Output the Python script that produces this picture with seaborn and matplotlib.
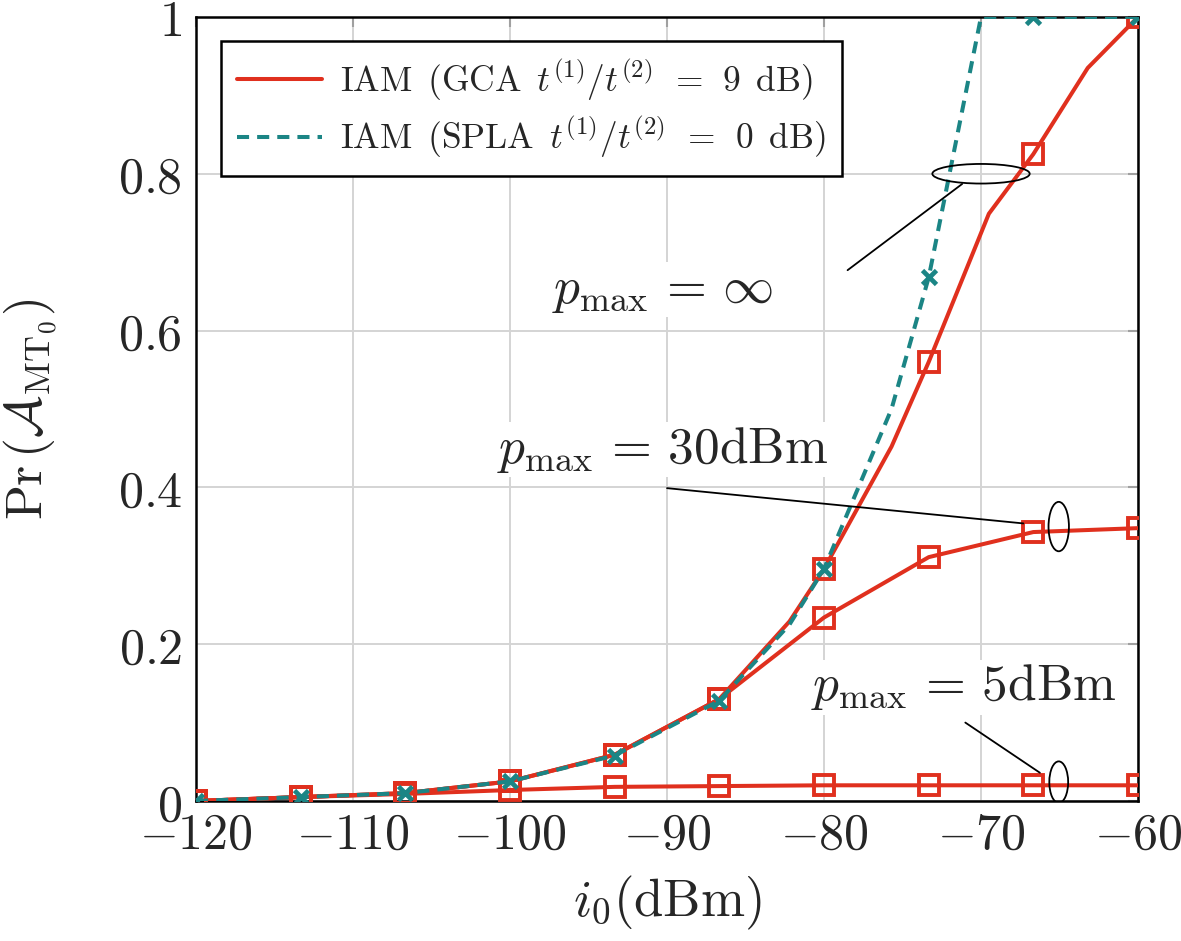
import matplotlib
matplotlib.use("Agg")
import matplotlib.pyplot as plt
from matplotlib.patches import Ellipse
from matplotlib.lines import Line2D
import seaborn as sns

# marker positions on the i0 axis (dBm)
i0_marks = [-120, -113.33, -106.67, -100, -93.33, -86.67, -80, -73.33, -66.67, -60]

# p_max = inf, GCA (extra points where the curve bends between markers)
i0_gca_inf = [-120, -113.33, -106.67, -100, -93.33, -86.67, -82.2, -80, -75.7, -73.33, -69.5, -66.67, -63.2, -60]
pr_gca_inf = [0.0, 0.005, 0.010, 0.025, 0.059, 0.130, 0.229, 0.296, 0.452, 0.560, 0.749, 0.825, 0.935, 1.0]

# p_max = inf, SPLA
i0_spla_inf = [-120, -113.33, -106.67, -100, -93.33, -86.67, -82.2, -80, -75.7, -73.33, -70, -66.67, -60]
pr_spla_inf = [0.0, 0.005, 0.010, 0.025, 0.058, 0.128, 0.225, 0.296, 0.50, 0.668, 1.0, 1.0, 1.0]

# p_max = 30 dBm and 5 dBm, GCA
pr_gca_30 = [0.0, 0.005, 0.010, 0.025, 0.059, 0.130, 0.234, 0.311, 0.343, 0.348]
pr_gca_5 = [0.0, 0.005, 0.009, 0.014, 0.018, 0.019, 0.020, 0.020, 0.020, 0.020]

x_ticks = [-120, -110, -100, -90, -80, -70, -60]
y_ticks = [0, 0.2, 0.4, 0.6, 0.8, 1]

legend_labels = [r"$\mathrm{IAM\ \,(GCA\ \,}t^{(1)}/t^{(2)}\;\,=\;\,9\ \,\mathrm{dB)}$",
                 r"$\mathrm{IAM\ \,(SPLA\ \,}t^{(1)}/t^{(2)}\;\,=\;\,0\ \,\mathrm{dB)}$"]

RED = "#e0301e"
TEAL = "#1b8585"
DASH = (0, (3.0, 2.0))

sns.set_style("white")
plt.rcParams["mathtext.fontset"] = "cm"
plt.rcParams["font.family"] = ["DejaVu Serif"]


def mark_idx(xs):
    return [i for i, x in enumerate(xs) if x in i0_marks]


fig = plt.figure(figsize=(11.81, 9.41), dpi=100)
ax = fig.add_axes([0.166, 0.1488, 0.7976, 0.8332])

red_kw = dict(color=RED, lw=2.9, marker="s", ms=14.5, mfc="none", mec=RED, mew=2.8)
sns.lineplot(x=i0_marks, y=pr_gca_5, ax=ax, zorder=3, **red_kw)
sns.lineplot(x=i0_marks, y=pr_gca_30, ax=ax, zorder=3, **red_kw)
sns.lineplot(x=i0_gca_inf, y=pr_gca_inf, ax=ax, zorder=3,
             markevery=mark_idx(i0_gca_inf), **red_kw)
sns.lineplot(x=i0_spla_inf, y=pr_spla_inf, ax=ax, zorder=4, color=TEAL, lw=2.9,
             linestyle=DASH, marker="x", ms=10.5, mec=TEAL, mew=3.4,
             markevery=mark_idx(i0_spla_inf))

# ellipses grouping curves + pointer lines + labels
ellipses = [((-70.0, 0.8), 6.2, 0.025), ((-65.05, 0.35), 1.3, 0.063), ((-65.05, 0.024), 1.2, 0.053)]
for c, w, h in ellipses:
    ax.add_patch(Ellipse(c, w, h, fill=False, ec="black", lw=1.3, zorder=6))

pointers = [((-71.2, 0.787), (-78.5, 0.677)),
            ((-67.3, 0.354), (-90.0, 0.399)),
            ((-66.25, 0.036), (-71.0, 0.10))]
for (x0, y0), (x1, y1) in pointers:
    ax.plot([x0, x1], [y0, y1], color="black", lw=1.3, zorder=6)

labels = [(-90.3, 0.652, r"$p_{\max}\,=\,\infty$"),
          (-90.3, 0.448, r"$p_{\max}\,=\,30\mathrm{dBm}$"),
          (-71.1, 0.145, r"$p_{\max}\,=\,5\mathrm{dBm}$")]
for x, y, s in labels:
    ax.text(x, y, s, fontsize=37, ha="center", va="center", zorder=5,
            bbox=dict(fc="white", ec="none", pad=2))

ax.set_xlim(-120, -60)
ax.set_ylim(0, 1)
ax.set_xticks(x_ticks)
ax.set_yticks(y_ticks)
ax.set_xticklabels([f"${v}$" for v in x_ticks])
ax.set_yticklabels([f"${v:g}$" for v in y_ticks])
ax.tick_params(labelsize=36, direction="in", length=7, width=1.5, color="#a0a0a0",
               top=True, right=True)
ax.tick_params(axis="x", pad=7)
ax.tick_params(axis="y", pad=10)
ax.grid(True, color="#d4d4d4", lw=1.4)
ax.set_axisbelow(True)
for sp in ax.spines.values():
    sp.set_color("black")
    sp.set_linewidth(1.8)

ax.set_xlabel(r"$i_0(\mathrm{dBm})$", fontsize=38)
ax.set_ylabel(r"$\mathrm{Pr}\,(\mathcal{A}_{\mathrm{MT}_0})$", fontsize=37)
ax.xaxis.set_label_coords(0.5, -0.093)
ax.yaxis.set_label_coords(-0.145, 0.5)

handles = [Line2D([], [], color=RED, lw=2.9),
           Line2D([], [], color=TEAL, lw=2.9, linestyle=DASH)]
leg = ax.legend(handles, legend_labels, loc="upper left", bbox_to_anchor=(0.027, 0.969),
                fontsize=25.5, frameon=True, fancybox=False, framealpha=1,
                edgecolor="black", handlelength=2.4, handletextpad=0.5,
                borderpad=0.45, labelspacing=0.35, borderaxespad=0)
leg.get_frame().set_linewidth(1.8)
leg.set_zorder(7)

fig.savefig("out.png", dpi=100)
